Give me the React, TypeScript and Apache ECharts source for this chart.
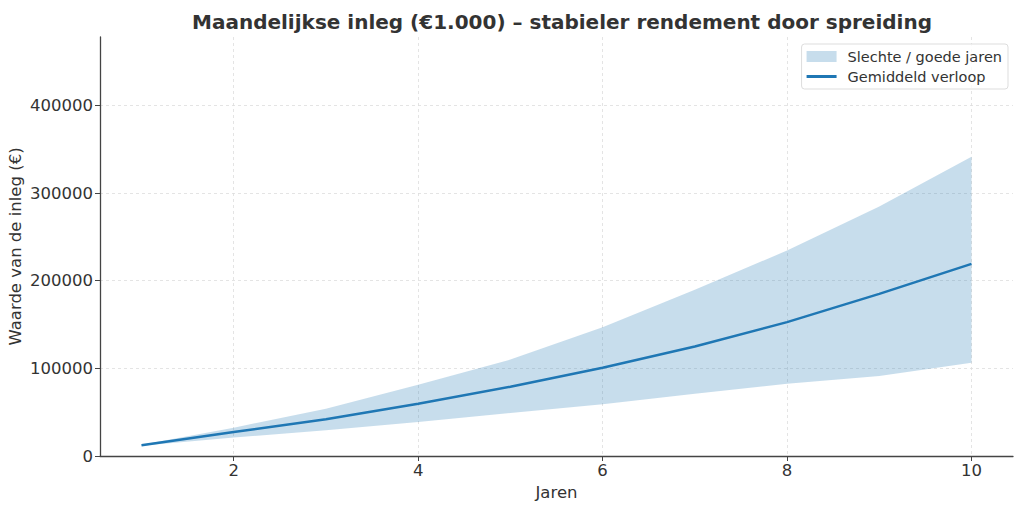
import React, { useEffect, useRef } from "react";
import * as echarts from "echarts";

const years = [1, 2, 3, 4, 5, 6, 7, 8, 9, 10];
const meanValues = [12200, 27300, 42000, 59700, 79000, 100700, 125000, 152700, 185000, 219200];
const lowerValues = [11800, 21000, 29500, 38700, 49000, 58900, 71000, 82500, 91200, 106400];
const upperValues = [12700, 32300, 54000, 81400, 110000, 147000, 189600, 234400, 284600, 341500];
const xTicks = [2, 4, 6, 8, 10];
const yTicks = [0, 100000, 200000, 300000, 400000];

const titleText = "Maandelijkse inleg (€1.000) – stabieler rendement door spreiding";
const bandName = "Slechte / goede jaren";
const meanName = "Gemiddeld verloop";

export default function App() {
  const ref = useRef<HTMLDivElement>(null);
  useEffect(() => {
    if (!ref.current) return;
    const chart = echarts.init(ref.current, null, { renderer: "svg" });
    const font = "DejaVu Sans";
    // value first, year second, so that stacking happens on the value dimension
    const lowerData = years.map((x, i) => [lowerValues[i], x]);
    const diffData = years.map((x, i) => [upperValues[i] - lowerValues[i], x]);
    const meanData = years.map((x, i) => [x, meanValues[i]]);
    chart.setOption({
      animation: false,
      backgroundColor: "#ffffff",
      textStyle: { fontFamily: font },
      title: {
        text: titleText,
        left: 557,
        textAlign: "center",
        top: 7,
        textStyle: { fontFamily: font, fontWeight: "bold", fontSize: 20, color: "#333333" },
      },
      legend: {
        right: 16,
        top: 44,
        orient: "vertical",
        backgroundColor: "rgba(255,255,255,0.8)",
        borderColor: "#dddddd",
        borderWidth: 1,
        borderRadius: 3,
        padding: [5, 6, 5, 5],
        itemGap: 5,
        itemWidth: 30,
        itemHeight: 11,
        textStyle: { fontFamily: font, fontSize: 14.5, color: "#333333", padding: [0, 0, 0, 6] },
        data: [
          { name: bandName, icon: "rect", itemStyle: { color: "rgba(31,119,180,0.25)" } },
          { name: meanName, icon: "path://M0,0 L30,0 L30,3 L0,3 Z", itemStyle: { color: "#1f77b4" } },
        ],
      },
      grid: { left: 100, right: 11, top: 37, bottom: 63, containLabel: false, outerBoundsMode: "none" },
      xAxis: {
        type: "value",
        min: 0.55,
        max: 10.45,
        name: "Jaren",
        nameLocation: "middle",
        nameGap: 28,
        nameMoveOverlap: false,
        nameTextStyle: { fontFamily: font, fontSize: 16.5, color: "#333333" },
        axisLine: { lineStyle: { color: "#444444", width: 1.3 } },
        axisTick: { show: true, inside: false, length: 5, customValues: xTicks, lineStyle: { color: "#444444" } },
        axisLabel: { customValues: xTicks, fontFamily: font, fontSize: 16.5, color: "#333333", margin: 6 },
        splitLine: { show: true, lineStyle: { color: "#dddddd", type: [3, 3], width: 0.8 } },
      },
      yAxis: {
        type: "value",
        min: 0,
        max: 478000,
        name: "Waarde van de inleg (€)",
        nameLocation: "middle",
        nameGap: 76,
        nameMoveOverlap: false,
        nameTextStyle: { fontFamily: font, fontSize: 16.5, color: "#333333" },
        axisLine: { show: true, lineStyle: { color: "#444444", width: 1.3 } },
        axisTick: { show: true, inside: false, length: 5, customValues: yTicks, lineStyle: { color: "#444444" } },
        axisLabel: {
          customValues: yTicks,
          fontFamily: font,
          fontSize: 16.5,
          color: "#333333",
          margin: 7,
          formatter: (v: number) => String(Math.round(v)),
        },
        splitLine: { show: true, lineStyle: { color: "#dddddd", type: [3, 3], width: 0.8 } },
      },
      series: [
        {
          name: "lower",
          type: "line",
          stack: "band",
          dimensions: ["v", "year"],
          encode: { x: 1, y: 0 },
          data: lowerData,
          symbol: "none",
          lineStyle: { opacity: 0 },
          silent: true,
        },
        {
          name: bandName,
          type: "line",
          stack: "band",
          dimensions: ["v", "year"],
          encode: { x: 1, y: 0 },
          data: diffData,
          symbol: "none",
          lineStyle: { opacity: 0 },
          areaStyle: { color: "rgba(31,119,180,0.25)", opacity: 1 },
          itemStyle: { color: "rgba(31,119,180,0.25)" },
          silent: true,
        },
        {
          name: meanName,
          type: "line",
          data: meanData,
          symbol: "none",
          lineStyle: { color: "#1f77b4", width: 2.5 },
          itemStyle: { color: "#1f77b4" },
          z: 5,
        },
      ],
    });
    return () => chart.dispose();
  }, []);
  return <div ref={ref} style={{ width: 1024, height: 519, margin: -8 }} />;
}
